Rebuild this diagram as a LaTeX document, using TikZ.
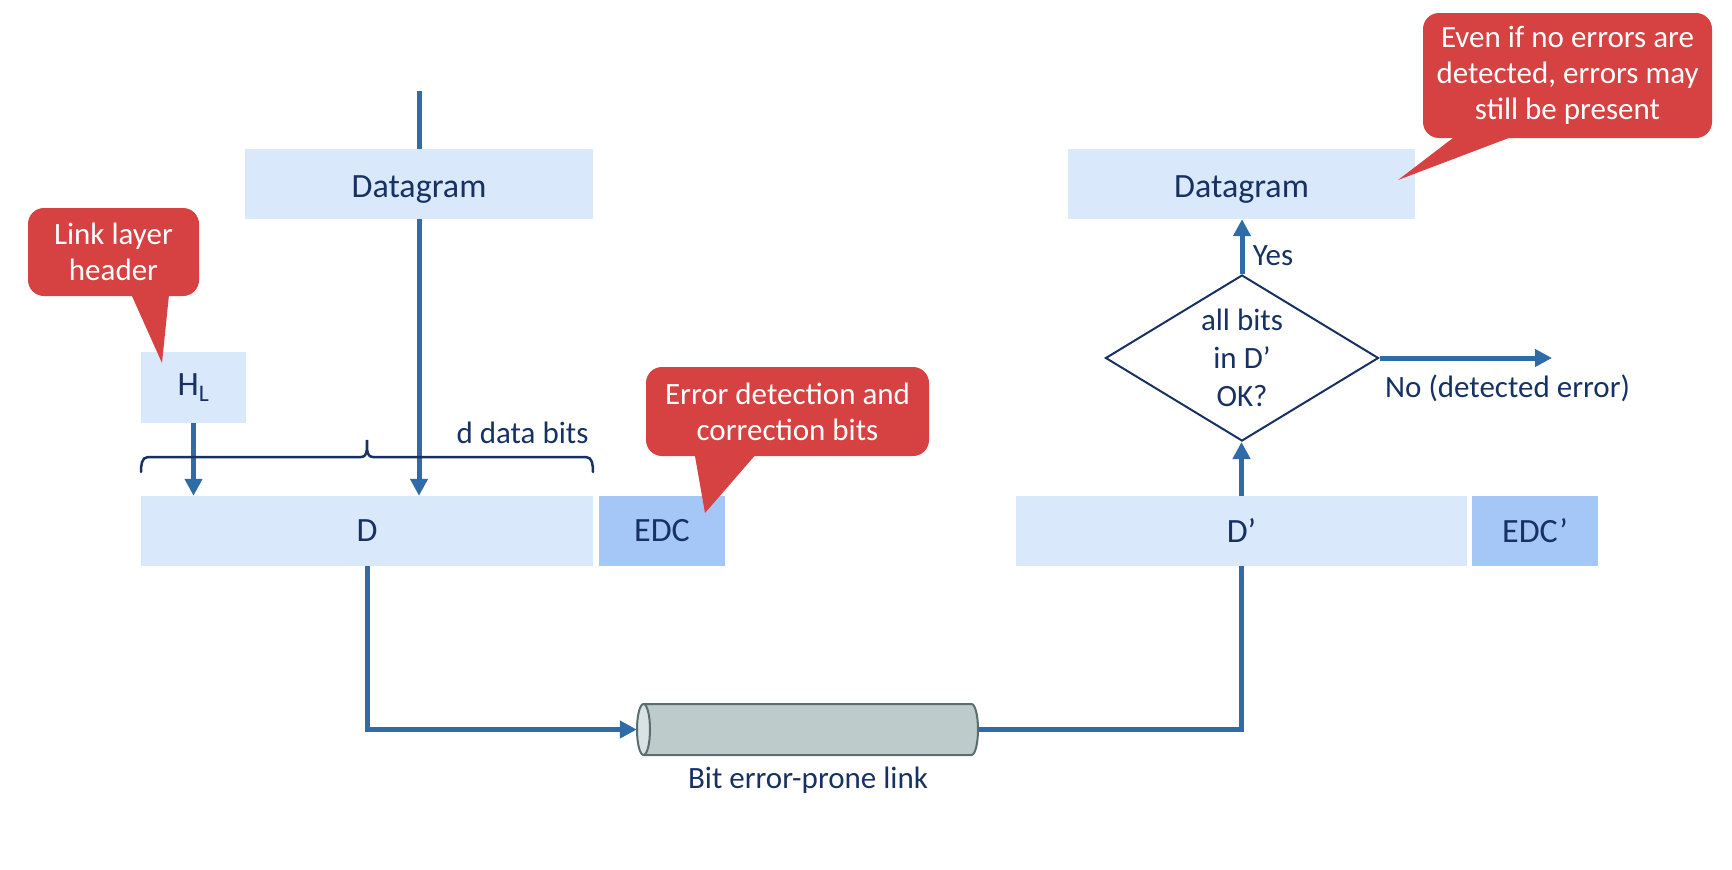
\documentclass[tikz,border=0pt]{standalone}
\usepackage{fontspec}
\setmainfont{Carlito}
\usetikzlibrary{arrows.meta,shapes.geometric,calc}
\definecolor{boxblue}{HTML}{DAE8FC}
\definecolor{edcblue}{HTML}{A4C7F8}
\definecolor{arrowblue}{HTML}{2F6BA6}
\definecolor{navy}{HTML}{173262}
\definecolor{callred}{HTML}{D64142}
\definecolor{cylfill}{HTML}{BDCBCB}
\definecolor{cylend}{HTML}{D8E2E2}
\definecolor{cylline}{HTML}{5B6E6E}
\begin{document}
\begin{tikzpicture}[x=1pt,y=1pt,
  txt/.style={text=navy,font=\fontsize{31}{38}\selectfont},
  box/.style={text=navy,font=\fontsize{34}{40}\selectfont,fill=boxblue,minimum height=70pt,inner sep=0pt},
  edcbox/.style={box,fill=edcblue},
  dgbox/.style={box,text height=26pt,text depth=0pt},
  arr/.style={line width=5pt,draw=arrowblue,-{Triangle[length=17pt,width=17pt]}},
  plainline/.style={line width=5pt,draw=arrowblue},
  callout/.style={fill=callred,rounded corners=16pt,text=white,align=center,
    font=\fontsize{31}{36}\selectfont,inner sep=0pt},
  pointer/.style={fill=callred},
  decision/.style={diamond,draw=navy,line width=2pt,fill=white,shape aspect=1.645,
    minimum width=273pt,minimum height=166pt,inner sep=0pt,align=center,txt}
]
\useasboundingbox (0,0) rectangle (1732,-870);

% source side
\coordinate (top) at (419,-91);
\node[box,minimum width=105pt,minimum height=71pt] (hl) at (193.5,-387.5) {H\textsubscript{L}};
\node[box,minimum width=452pt] (d) at (367,-531) {D};
\node[edcbox,minimum width=126pt] (edc) at (662,-531) {EDC};
\node[txt,inner sep=0pt] (dbits) at (522.5,-433) {d data bits};

\draw[arr] (top) -- (top |- d.north);
\node[dgbox,minimum width=348pt] (dg1) at (419,-184) {Datagram};
\draw[arr] (hl.south) -- (hl.south |- d.north);

% brace
\draw[navy,line width=2.5pt,line cap=round]
  (141,-472) to[out=90,in=180] (148,-457) -- (361,-457)
  to[out=0,in=-90] (367,-440) to[out=-90,in=180] (373,-457)
  -- (586,-457) to[out=0,in=90] (593,-472);

% link
\node[minimum width=341pt,minimum height=51pt,inner sep=0pt] (link) at (807.5,-729.5) {};
\fill[cylfill] (643.5,-704) rectangle (971.5,-755);
\fill[cylfill] (971.5,-729.5) ellipse (6.5pt and 25.5pt);
\draw[cylline,line width=2pt] (643.5,-704) -- (971.5,-704)
  arc[start angle=90,end angle=-90,x radius=6.5pt,y radius=25.5pt] -- (643.5,-755);
\draw[cylline,line width=2pt,fill=cylend] (643.5,-729.5) ellipse (6.5pt and 25.5pt);
\node[txt,inner sep=0pt] (linklbl) at (808,-780) {Bit error-prone link};

\draw[arr] (d.south) |- (link.west);

% receiving side
\node[box,minimum width=451pt] (dp) at (1241.5,-531) {D’};
\node[edcbox,minimum width=126pt] (edcp) at (1535,-531) {EDC’};
\node[dgbox,minimum width=347pt] (dg2) at (1241.5,-184) {Datagram};
\node[decision] (chk) at (1242,-358) {all bits\\in D’\\OK?};
\coordinate (noend) at (1552,-358);

\draw[plainline] (link.east) -| (dp.south);
\draw[arr] (dp.north) -- (dp.north |- chk.south);
\draw[arr] (chk.north) -- (chk.north |- dg2.south);
\draw[arr] (chk.east) -- (noend);
\node[txt,inner sep=0pt] (yes) at (1273,-256) {Yes};
\node[txt,inner sep=0pt] (no) at (1507.5,-388) {No (detected error)};

% callouts
\fill[pointer] (127,-285) -- (162,-363) -- (170,-285) -- cycle;
\node[callout,minimum width=171pt,minimum height=88pt] (c1) at (113.5,-252) {Link layer\\header};
\fill[pointer] (693,-445) -- (705,-513) -- (764,-445) -- cycle;
\node[callout,minimum width=283pt,minimum height=89pt] (c2) at (787.5,-411.5) {Error detection and\\correction bits};
\fill[pointer] (1470,-125) -- (1398,-180) -- (1543,-125) -- cycle;
\node[callout,minimum width=289pt,minimum height=125pt] (c3) at (1567.5,-75.5) {Even if no errors are\\detected, errors may\\still be present};
\end{tikzpicture}
\end{document}
